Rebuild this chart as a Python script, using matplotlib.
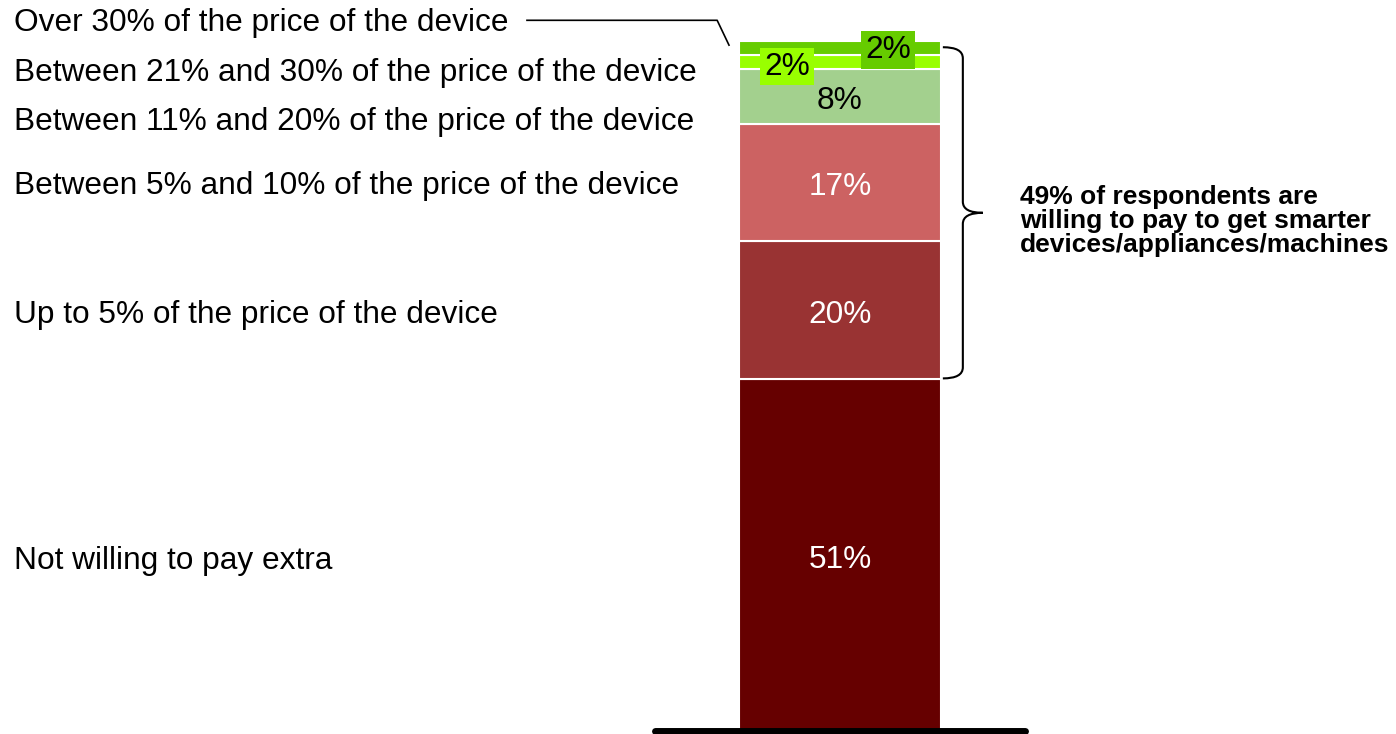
import matplotlib
matplotlib.use("Agg")
import matplotlib.pyplot as plt
from matplotlib.path import Path
from matplotlib.patches import PathPatch
from matplotlib.transforms import blended_transform_factory

plt.rcParams['font.family'] = ['Liberation Sans', 'DejaVu Sans']

# Stacked shares, bottom to top
categories = [
    "Not willing to pay extra",
    "Up to 5% of the price of the device",
    "Between 5% and 10% of the price of the device",
    "Between 11% and 20% of the price of the device",
    "Between 21% and 30% of the price of the device",
    "Over 30% of the price of the device",
]
shares = [51, 20, 17, 8, 2, 2]
value_labels = ["51%", "20%", "17%", "8%", "2%", "2%"]
colors = ["#660000", "#993333", "#CC6262", "#A3D08E", "#99FF00", "#66CC00"]
label_colors = ["white", "white", "white", "black", "black", "black"]
callout_text = "49% of respondents are\nwilling to pay to get smarter\ndevices/appliances/machines"

fig = plt.figure(figsize=(13.96, 7.34), dpi=100)
ax = fig.add_axes([655 / 1396, 3 / 734, 370 / 1396, 690 / 734])
ax.set_xlim(0, 1)
ax.set_ylim(0, 100)
ax.axis("off")

bar_x = 0.5
bar_w = 0.546
bottoms = []
acc = 0
for v in shares:
    bottoms.append(acc)
    acc += v

ax.bar([bar_x] * len(shares), shares, width=bar_w, bottom=bottoms,
       color=colors, edgecolor="white", linewidth=1.5, zorder=2)

# base line under the bar
ax.plot([0, 1], [0, 0], color="black", lw=5, solid_capstyle="round",
        clip_on=False, zorder=3)

# value labels inside the segments (small top segments get boxed labels)
fs = 22.8
for i, (b, v, txt, tc) in enumerate(zip(bottoms, shares, value_labels, label_colors)):
    mid = b + v / 2
    if i == 4:
        ax.text(0.357, mid - 0.7, txt, ha="center", va="center", fontsize=fs, color=tc,
                zorder=4, bbox=dict(boxstyle="square,pad=0.12", fc=colors[i], ec="none"))
    elif i == 5:
        ax.text(0.630, mid - 0.3, txt, ha="center", va="center", fontsize=fs, color=tc,
                zorder=4, bbox=dict(boxstyle="square,pad=0.12", fc=colors[i], ec="none"))
    else:
        ax.text(bar_x, mid - 0.7, txt, ha="center", va="center", fontsize=fs, color=tc,
                zorder=4)

# category labels on the left
left_tr = blended_transform_factory(fig.transFigure, ax.transData)
label_shift = [-0.9, -0.7, -0.5, -3.7, -1.6, 3.6]
for b, v, name, dy in zip(bottoms, shares, categories, label_shift):
    ax.text(14 / 1396, b + v / 2 + dy, name, transform=left_tr, ha="left",
            va="center", fontsize=fs, color="black")

# leader line for the top category
ax.plot([-0.346, 0.168, 0.2], [103.0, 103.0, 99.4], color="black", lw=1.2,
        clip_on=False, zorder=3)

# curly brace around the paying segments
top = 100 - 0.9
bot = shares[0] + 0.1
midb = (top + bot) / 2
x0, x1, x2 = 0.778, 0.832, 0.886
r = 1.6
verts = [
    (x0, top), (x1, top), (x1, top - r),
    (x1, midb + r), (x1, midb), (x2, midb),
    (x1, midb), (x1, midb - r),
    (x1, bot + r), (x1, bot), (x0, bot),
]
codes = [Path.MOVETO, Path.CURVE3, Path.CURVE3,
         Path.LINETO, Path.CURVE3, Path.CURVE3,
         Path.CURVE3, Path.CURVE3,
         Path.LINETO, Path.CURVE3, Path.CURVE3]
ax.add_patch(PathPatch(Path(verts, codes), fc="none", ec="black", lw=1.5,
                       clip_on=False, zorder=3))

ax.text(0.986, midb - 1.2, callout_text, ha="left", va="center", fontsize=19,
        fontweight="bold", linespacing=0.98, color="black")

fig.savefig("out.png", dpi=100)
